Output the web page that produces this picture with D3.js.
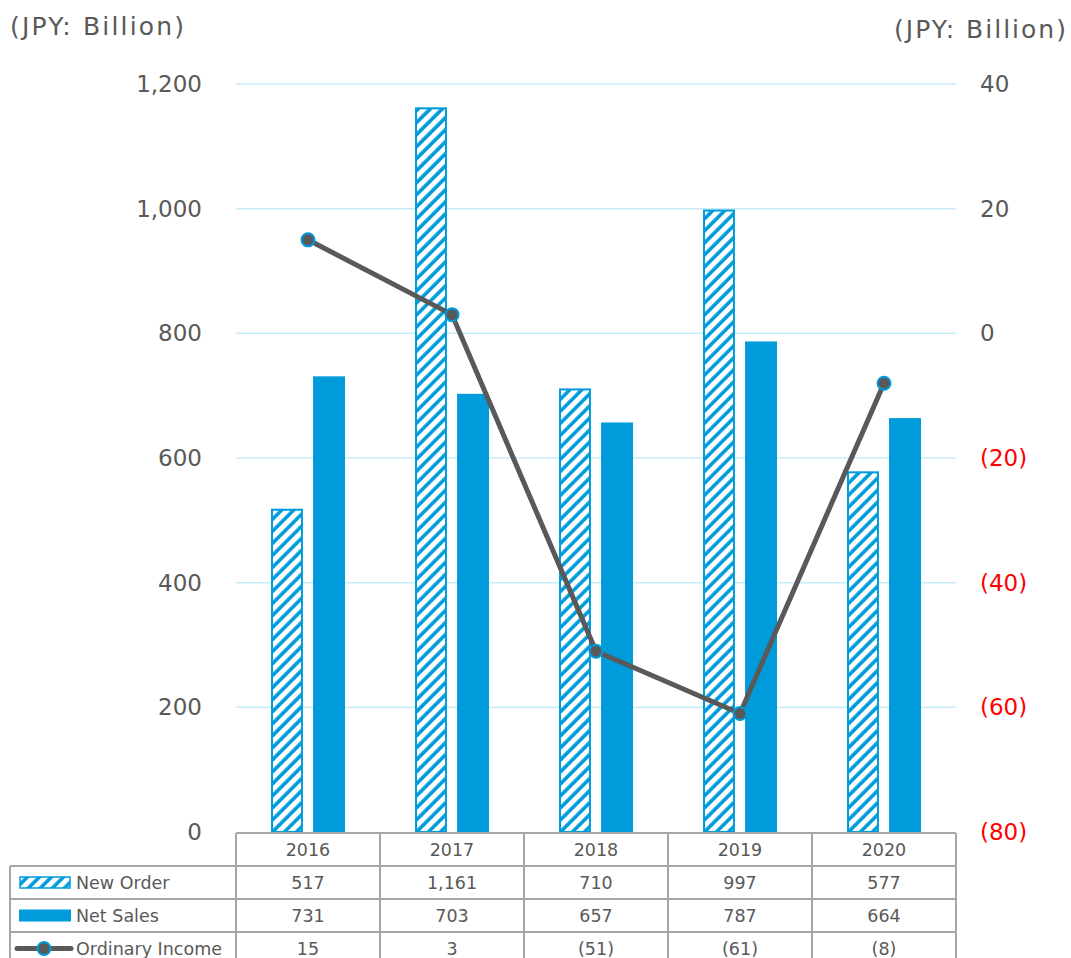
<!DOCTYPE html>
<html>
<head>
<meta charset="utf-8">
<script src="https://cdn.jsdelivr.net/npm/d3@7"></script>
<style>
  body { margin: 0; background: #fff; }
  text { font-family: "DejaVu Sans", Verdana, sans-serif; }
</style>
</head>
<body>
<div id="chart"></div>
<script>
// data
const years = ["2016", "2017", "2018", "2019", "2020"];
const newOrder = [517, 1161, 710, 997, 577];
const netSales = [731, 703, 657, 787, 664];
const ordinaryIncome = [15, 3, -51, -61, -8];
const leftTicks = [0, 200, 400, 600, 800, 1000, 1200];
const rightTicks = [-80, -60, -40, -20, 0, 20, 40];
const seriesNames = ["New Order", "Net Sales", "Ordinary Income"];
const unitLabel = "(JPY: Billion)";

const W = 1071, H = 958;
const plot = {left: 236, right: 956, top: 84, bottom: 832};
const blue = "#009bdb", grey = "#595959", gridCol = "#c6ecfb", border = "#a6a6a6";

const svg = d3.select("#chart").append("svg")
    .attr("width", W).attr("height", H);

// hatch pattern for New Order
const defs = svg.append("defs");
defs.append("pattern")
    .attr("id", "hatch")
    .attr("patternUnits", "userSpaceOnUse")
    .attr("width", 8.5).attr("height", 8.5)
    .attr("patternTransform", "rotate(45)")
  .call(p => {
    p.append("rect").attr("width", 8.5).attr("height", 8.5).attr("fill", "#fff");
    p.append("line").attr("x1", 2).attr("x2", 2).attr("y1", 0).attr("y2", 8.5)
      .attr("stroke", blue).attr("stroke-width", 3.6);
  });

// scales
const x0 = d3.scaleBand().domain(years).range([plot.left, plot.right]);
const x1 = d3.scaleBand().domain(["order", "sales"]).range([35, 109]).paddingInner(0.24);
const yL = d3.scaleLinear().domain([0, 1200]).range([plot.bottom, plot.top]);
const yR = d3.scaleLinear().domain([-80, 40]).range([plot.bottom, plot.top]);

// gridlines
svg.append("g").selectAll("line").data(leftTicks.filter(d => d > 0)).enter().append("line")
    .attr("x1", plot.left).attr("x2", plot.right)
    .attr("y1", d => yL(d)).attr("y2", d => yL(d))
    .attr("stroke", gridCol).attr("stroke-width", 1.5);

// left axis
const axL = svg.append("g").attr("transform", `translate(${plot.left},0)`)
    .call(d3.axisLeft(yL).tickValues(leftTicks).tickFormat(d3.format(",")).tickSize(0).tickPadding(34));
axL.select(".domain").remove();
axL.selectAll("text").attr("font-size", 23).attr("fill", grey)
    .style("font-family", '"DejaVu Sans", Verdana, sans-serif');

// right axis
const fmtR = v => v < 0 ? `(${-v})` : `${v}`;
const axR = svg.append("g").attr("transform", `translate(${plot.right},0)`)
    .call(d3.axisRight(yR).tickValues(rightTicks).tickFormat(fmtR).tickSize(0).tickPadding(24));
axR.select(".domain").remove();
axR.selectAll("text").attr("font-size", 23).attr("fill", d => d < 0 ? "#ff0000" : grey)
    .style("font-family", '"DejaVu Sans", Verdana, sans-serif');

// unit labels
svg.append("text").attr("x", 10).attr("y", 35).attr("font-size", 25).attr("fill", grey)
    .attr("textLength", 174).attr("lengthAdjust", "spacing").text(unitLabel);
svg.append("text").attr("x", 894).attr("y", 38)
    .attr("font-size", 25).attr("fill", grey)
    .attr("textLength", 172).attr("lengthAdjust", "spacing").text(unitLabel);

// bars
const barData = years.map((y, i) => ({year: y, order: newOrder[i], sales: netSales[i]}));
const grp = svg.append("g").selectAll("g").data(barData).enter().append("g")
    .attr("transform", d => `translate(${x0(d.year)},0)`);
grp.append("rect")
    .attr("x", x1("order") + 1).attr("width", x1.bandwidth() - 2)
    .attr("y", d => yL(d.order)).attr("height", d => yL(0) - yL(d.order))
    .attr("fill", "url(#hatch)").attr("stroke", blue).attr("stroke-width", 2);
grp.append("rect")
    .attr("x", x1("sales")).attr("width", x1.bandwidth())
    .attr("y", d => yL(d.sales)).attr("height", d => yL(0) - yL(d.sales))
    .attr("fill", blue);

// ordinary income line
const incData = years.map((y, i) => ({year: y, v: ordinaryIncome[i]}));
const cx = d => x0(d.year) + x0.bandwidth() / 2;
svg.append("path").datum(incData)
    .attr("fill", "none").attr("stroke", grey).attr("stroke-width", 5)
    .attr("stroke-linejoin", "round")
    .attr("d", d3.line().x(cx).y(d => yR(d.v)));
svg.append("g").selectAll("circle").data(incData).enter().append("circle")
    .attr("cx", cx).attr("cy", d => yR(d.v)).attr("r", 6.5)
    .attr("fill", grey).attr("stroke", blue).attr("stroke-width", 2);

// data table
const tbl = {left: 10, top: 833, headerH: 33, rowH: 33};
const rows = d3.scaleBand().domain(seriesNames)
    .range([tbl.top + tbl.headerH, tbl.top + tbl.headerH + tbl.rowH * 3]);
const rowVals = [newOrder.map(d3.format(",")), netSales.map(d3.format(",")), ordinaryIncome.map(fmtR)];
const tg = svg.append("g");
const lineStyle = s => s.attr("stroke", border).attr("stroke-width", 2).attr("fill", "none");

// header row box
tg.append("line").attr("x1", plot.left).attr("x2", plot.right).attr("y1", tbl.top).attr("y2", tbl.top).call(lineStyle);
// horizontal lines for rows
seriesNames.forEach(n => {
  tg.append("line").attr("x1", tbl.left).attr("x2", plot.right)
    .attr("y1", rows(n)).attr("y2", rows(n)).call(lineStyle);
});
tg.append("line").attr("x1", tbl.left).attr("x2", plot.right)
  .attr("y1", rows.range()[1]).attr("y2", rows.range()[1]).call(lineStyle);
// vertical lines
tg.append("line").attr("x1", tbl.left).attr("x2", tbl.left)
  .attr("y1", rows.range()[0]).attr("y2", rows.range()[1]).call(lineStyle);
years.concat(["end"]).forEach((y, i) => {
  const xx = plot.left + i * x0.bandwidth();
  tg.append("line").attr("x1", xx).attr("x2", xx)
    .attr("y1", tbl.top).attr("y2", rows.range()[1]).call(lineStyle);
});

// header text
tg.selectAll(".yr").data(years).enter().append("text")
    .attr("x", d => x0(d) + x0.bandwidth() / 2).attr("y", tbl.top + tbl.headerH / 2 + 6)
    .attr("text-anchor", "middle").attr("font-size", 17.5).attr("fill", grey).text(d => d);

// cell text
seriesNames.forEach((n, r) => {
  tg.selectAll(".c" + r).data(rowVals[r]).enter().append("text")
    .attr("x", (d, i) => x0(years[i]) + x0.bandwidth() / 2)
    .attr("y", rows(n) + rows.bandwidth() / 2 + 6)
    .attr("text-anchor", "middle").attr("font-size", 17.5).attr("fill", grey).text(d => d);
  tg.append("text").attr("x", 76).attr("y", rows(n) + rows.bandwidth() / 2 + 6)
    .attr("font-size", 17.5).attr("fill", grey).text(n);
});

// legend keys inside table
const ky = n => rows(n) + rows.bandwidth() / 2;
tg.append("rect").attr("x", 20).attr("y", ky(seriesNames[0]) - 5.5).attr("width", 50).attr("height", 11)
    .attr("fill", "url(#hatch)").attr("stroke", blue).attr("stroke-width", 1.5);
tg.append("rect").attr("x", 19).attr("y", ky(seriesNames[1]) - 6).attr("width", 52).attr("height", 12)
    .attr("fill", blue);
tg.append("line").attr("x1", 17).attr("x2", 71).attr("y1", ky(seriesNames[2])).attr("y2", ky(seriesNames[2]))
    .attr("stroke", grey).attr("stroke-width", 5).attr("stroke-linecap", "round");
tg.append("circle").attr("cx", 44).attr("cy", ky(seriesNames[2])).attr("r", 6.5)
    .attr("fill", grey).attr("stroke", blue).attr("stroke-width", 2);
</script>
</body>
</html>
